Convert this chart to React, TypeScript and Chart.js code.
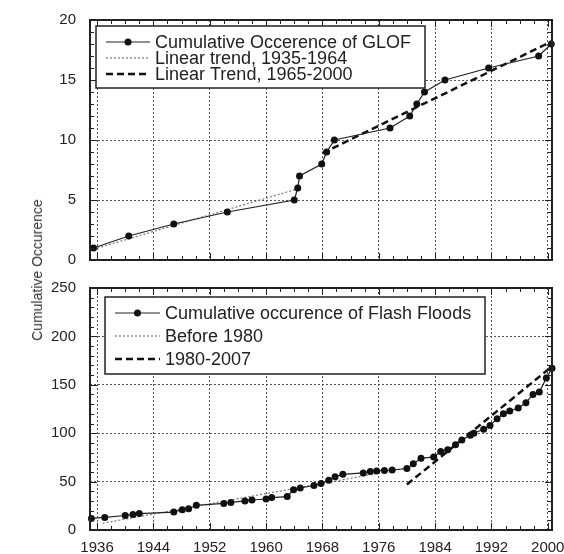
import React, { useEffect, useRef } from 'react';
import { Chart, registerables } from 'chart.js';

Chart.register(...registerables);

// ---------- data ----------
const glofYears = [1935.5, 1940.5, 1946.9, 1954.5, 1964.0, 1964.5, 1964.75, 1967.9, 1968.6, 1969.7, 1977.6, 1980.4, 1981.4, 1982.5, 1985.4, 1991.6, 1998.7, 2000.5];
const glofCounts = [1, 2, 3, 4, 5, 6, 7, 8, 9, 10, 11, 12, 13, 14, 15, 16, 17, 18];
const glofTrendEarlyYears = [1935.5, 1964.3];
const glofTrendEarlyValues = [0.9, 5.9];
const glofTrendLateYears = [1968.0, 2000.5];
const glofTrendLateValues = [8.9, 18.2];

const floodYears = [1935.2, 1937.1, 1940.0, 1941.1, 1942.0, 1946.9, 1948.1, 1949.0, 1950.1, 1954.0, 1955.0, 1957.0, 1958.0, 1960.0, 1960.8, 1963.0, 1963.9, 1964.85, 1966.8, 1967.8, 1968.9, 1969.8, 1970.9, 1973.8, 1974.8, 1975.7, 1976.8, 1977.9, 1980.0, 1980.9, 1982.0, 1983.8, 1984.8, 1985.8, 1986.9, 1987.8, 1989.0, 1989.5, 1990.9, 1991.8, 1992.8, 1993.7, 1994.6, 1995.8, 1996.9, 1997.9, 1998.8, 1999.8, 2000.6];
const floodCounts = [12, 13, 15, 16, 17, 18.5, 21, 22, 25.5, 27.5, 28.5, 30, 31, 32, 33.5, 34.5, 41.5, 43.5, 46, 48, 51.5, 55, 57.5, 59, 60.5, 61, 61.5, 62, 63.5, 68.5, 74, 75.5, 81, 83, 88, 93, 98, 100, 104, 108, 115, 120, 123, 126, 131.5, 140, 142.5, 157, 167];
const floodTrendEarlyYears = [1936.8, 1980.0];
const floodTrendEarlyValues = [7, 64];
const floodTrendLateYears = [1980.0, 2000.6];
const floodTrendLateValues = [47, 169];

const yearTicks = [1936, 1944, 1952, 1960, 1968, 1976, 1984, 1992, 2000];
const glofTicks = [0, 5, 10, 15, 20];
const floodTicks = [0, 50, 100, 150, 200, 250];

const glofLabels = ['Cumulative Occerence of GLOF', 'Linear trend, 1935-1964', 'Linear Trend, 1965-2000'];
const floodLabels = ['Cumulative occurence of Flash Floods', 'Before 1980', '1980-2007'];
const yAxisTitle = 'Cumulative Occurence';

// ---------- helpers ----------
const FONT = "'Liberation Sans', Arial, sans-serif";
const pts = (xs: number[], ys: number[]) => xs.map((x, i) => ({ x, y: ys[i] }));

const frameTicksPlugin = {
  id: 'frameTicks',
  afterDatasetsDraw(chart: any, _args: any, opts: any) {
    const { ctx, chartArea: a, scales } = chart;
    const xs = scales.x;
    const ys = scales.y;
    ctx.save();
    ctx.setLineDash([]);
    ctx.strokeStyle = '#222';
    ctx.lineWidth = 1;
    ctx.beginPath();
    for (let v = opts.xStart; v <= xs.max + 1e-6; v += opts.xStep) {
      const major = Math.abs(((v - opts.xStart) % opts.xMajor)) < 1e-6;
      const len = major ? opts.majorLen : opts.minorLen;
      const px = Math.round(xs.getPixelForValue(v)) + 0.5;
      ctx.moveTo(px, a.top);
      ctx.lineTo(px, a.top + len);
      ctx.moveTo(px, a.bottom);
      ctx.lineTo(px, a.bottom - len);
    }
    for (let v = ys.min; v <= ys.max + 1e-6; v += opts.yStep) {
      const major = Math.abs(v % opts.yMajor) < 1e-6;
      const len = major ? opts.majorLen : opts.minorLen;
      const py = Math.round(ys.getPixelForValue(v)) + 0.5;
      ctx.moveTo(a.left, py);
      ctx.lineTo(a.left + len, py);
      ctx.moveTo(a.right, py);
      ctx.lineTo(a.right - len, py);
    }
    ctx.stroke();
    ctx.lineWidth = 2;
    ctx.strokeRect(a.left, a.top, a.right - a.left, a.bottom - a.top);
    ctx.restore();
  },
};

const boxLegendPlugin = {
  id: 'boxLegend',
  afterDraw(chart: any, _args: any, opts: any) {
    const { ctx } = chart;
    ctx.save();
    ctx.fillStyle = '#fff';
    ctx.fillRect(opts.left, opts.top, opts.right - opts.left, opts.bottom - opts.top);
    ctx.setLineDash([]);
    ctx.strokeStyle = '#222';
    ctx.lineWidth = 1.5;
    ctx.strokeRect(opts.left, opts.top, opts.right - opts.left, opts.bottom - opts.top);
    chart.data.datasets.forEach((ds: any, i: number) => {
      const y = opts.rows[i];
      ctx.save();
      ctx.strokeStyle = ds.borderColor;
      ctx.lineWidth = ds.borderWidth;
      ctx.setLineDash(ds.borderDash || []);
      ctx.beginPath();
      ctx.moveTo(opts.sampleX0, y);
      ctx.lineTo(opts.sampleX1, y);
      ctx.stroke();
      if (ds.pointRadius > 0) {
        ctx.setLineDash([]);
        ctx.fillStyle = ds.pointBackgroundColor;
        ctx.beginPath();
        ctx.arc((opts.sampleX0 + opts.sampleX1) / 2, y, ds.pointRadius, 0, Math.PI * 2);
        ctx.fill();
      }
      ctx.restore();
      ctx.fillStyle = '#222';
      ctx.font = `${opts.fontSize}px ${FONT}`;
      ctx.textBaseline = 'middle';
      ctx.textAlign = 'left';
      ctx.fillText(ds.label, opts.textX, y + 1);
    });
    ctx.restore();
  },
};

function makeDatasets(labels: string[], main: any[], early: any[], late: any[]) {
  return [
    {
      label: labels[0],
      data: main,
      borderColor: '#222',
      borderWidth: 1.2,
      pointRadius: 3.5,
      pointBackgroundColor: '#111',
      pointBorderColor: '#111',
      pointBorderWidth: 0,
      tension: 0,
      clip: false,
    },
    {
      label: labels[1],
      data: early,
      borderColor: '#777',
      borderWidth: 1.2,
      borderDash: [2, 2],
      pointRadius: 0,
      tension: 0,
      clip: false,
    },
    {
      label: labels[2],
      data: late,
      borderColor: '#111',
      borderWidth: 2.5,
      borderDash: [7, 4],
      pointRadius: 0,
      tension: 0,
      clip: false,
    },
  ];
}

function makeOptions(cfg: any) {
  return {
    responsive: false,
    animation: false as const,
    events: [],
    layout: { padding: { left: 0, right: 12, top: cfg.padTop, bottom: 0 } },
    plugins: {
      legend: { display: false },
      tooltip: { enabled: false },
      frameTicks: cfg.frame,
      boxLegend: cfg.legend,
    },
    scales: {
      x: {
        type: 'linear' as const,
        min: 1935,
        max: 2000.6,
        afterBuildTicks: (s: any) => {
          s.ticks = yearTicks.map((v) => ({ value: v }));
        },
        afterFit: (s: any) => {
          s.height = cfg.xHeight;
          s.paddingLeft = 0;
          s.paddingRight = 0;
        },
        grid: { color: '#555', lineWidth: 1, drawTicks: false },
        border: { display: false, dash: [2, 2] },
        ticks: {
          display: cfg.showX,
          autoSkip: false,
          maxRotation: 0,
          padding: 9,
          color: '#222',
          font: { family: FONT, size: 15 },
          callback: (v: any) => String(v),
        },
      },
      y: {
        type: 'linear' as const,
        min: cfg.yTicks[0],
        max: cfg.yTicks[cfg.yTicks.length - 1],
        afterBuildTicks: (s: any) => {
          s.ticks = cfg.yTicks.map((v: number) => ({ value: v }));
        },
        afterFit: (s: any) => {
          s.width = 90;
          s.paddingTop = 0;
          s.paddingBottom = 0;
        },
        grid: { color: '#555', lineWidth: 1, drawTicks: false },
        border: { display: false, dash: [2, 2] },
        ticks: {
          padding: 14,
          color: '#222',
          font: { family: FONT, size: 15 },
          callback: (v: any) => String(v),
        },
      },
    },
  };
}

export default function App() {
  const topRef = useRef<HTMLCanvasElement>(null);
  const botRef = useRef<HTMLCanvasElement>(null);

  useEffect(() => {
    const top = new Chart(topRef.current!, {
      type: 'line',
      data: {
        datasets: makeDatasets(
          glofLabels,
          pts(glofYears, glofCounts),
          pts(glofTrendEarlyYears, glofTrendEarlyValues),
          pts(glofTrendLateYears, glofTrendLateValues)
        ) as any,
      },
      options: makeOptions({
        padTop: 20,
        xHeight: 15,
        showX: false,
        yTicks: glofTicks,
        frame: { xStart: 1936, xStep: 2, xMajor: 8, yStep: 1, yMajor: 5, minorLen: 4, majorLen: 7 },
        legend: { left: 96, top: 26, right: 425, bottom: 88, rows: [42, 58, 74], sampleX0: 106, sampleX1: 150, textX: 155, fontSize: 18 },
      }) as any,
      plugins: [frameTicksPlugin, boxLegendPlugin],
    });
    const bot = new Chart(botRef.current!, {
      type: 'line',
      data: {
        datasets: makeDatasets(
          floodLabels,
          pts(floodYears, floodCounts),
          pts(floodTrendEarlyYears, floodTrendEarlyValues),
          pts(floodTrendLateYears, floodTrendLateValues)
        ) as any,
      },
      options: makeOptions({
        padTop: 13,
        xHeight: 24,
        showX: true,
        yTicks: floodTicks,
        frame: { xStart: 1936, xStep: 2, xMajor: 8, yStep: 10, yMajor: 50, minorLen: 4, majorLen: 7 },
        legend: { left: 105, top: 22, right: 485, bottom: 99, rows: [38, 61, 84], sampleX0: 115, sampleX1: 160, textX: 165, fontSize: 18 },
      }) as any,
      plugins: [frameTicksPlugin, boxLegendPlugin],
    });
    return () => {
      top.destroy();
      bot.destroy();
    };
  }, []);

  return (
    <div style={{ position: 'absolute', left: 0, top: 0, width: 564, height: 554, background: '#fff', overflow: 'hidden' }}>
      <canvas ref={topRef} width={564} height={275} style={{ position: 'absolute', left: 0, top: 0, display: 'block' }} />
      <canvas ref={botRef} width={564} height={279} style={{ position: 'absolute', left: 0, top: 275, display: 'block' }} />
      <div
        style={{
          position: 'absolute',
          left: 37,
          top: 270,
          transform: 'translate(-50%, -50%) rotate(-90deg)',
          fontFamily: FONT,
          fontSize: 14,
          color: '#333',
          whiteSpace: 'nowrap',
        }}
      >
        {yAxisTitle}
      </div>
    </div>
  );
}
